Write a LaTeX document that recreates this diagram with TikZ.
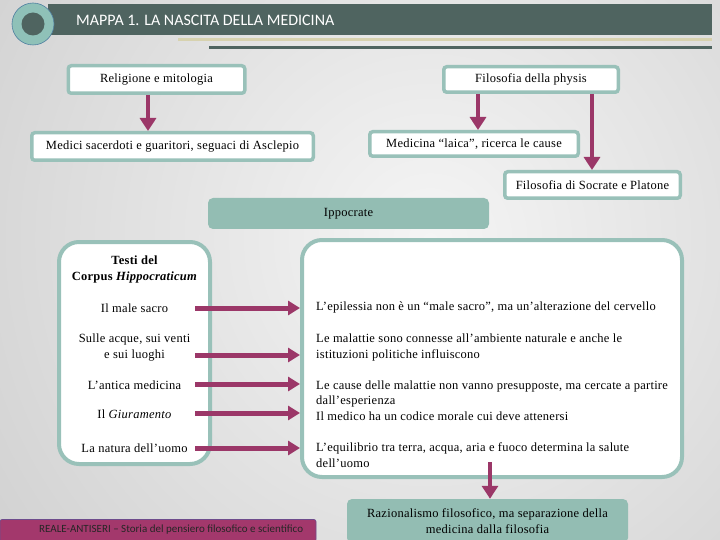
\documentclass[tikz,border=0pt]{standalone}
\usepackage{fontspec}
\setmainfont[LetterSpace=2]{Liberation Serif}
\newfontfamily\carlito{Carlito}
\usetikzlibrary{arrows.meta}
\definecolor{bgA}{HTML}{F5F5F5}
\definecolor{bgB}{HTML}{BEBEBE}
\definecolor{hdr}{HTML}{4F6460}
\definecolor{tealB}{HTML}{99C1B9}
\definecolor{tealF}{HTML}{93BDB3}
\definecolor{mag}{HTML}{9B3768}
\definecolor{magF}{HTML}{A3386C}
\definecolor{magB}{HTML}{6E4C8C}
\definecolor{beige}{HTML}{D7D2AF}
\definecolor{ring}{HTML}{8FC1B8}
\definecolor{ringB}{HTML}{4F7FA0}
\begin{document}
\begin{tikzpicture}[x=1pt,y=-1pt,
  box/.style={draw=tealB, line width=3.5pt, fill=white, rounded corners=3pt, inner sep=0pt, font=\fontsize{12.5}{15}\selectfont},
  tbox/.style={fill=tealF, rounded corners=5pt, inner sep=0pt, align=center, font=\fontsize{12.5}{16}\selectfont},
  bigbox/.style={draw=tealB, line width=4pt, fill=white, rounded corners=20pt, inner sep=0pt},
  varr/.style={draw=mag, line width=4.5pt, -{Triangle[width=16pt,length=13pt]}},
  harr/.style={draw=mag, line width=5pt, -{Triangle[width=14pt,length=12pt]}},
  txt/.style={font=\fontsize{12.5}{15}\selectfont, inner sep=0pt},
  btxt/.style={font=\fontsize{12.5}{15}\selectfont\bfseries, inner sep=0pt},
]
\useasboundingbox (0,0) rectangle (720,540);
% background
\begin{scope}
\clip (0,0) rectangle (720,540);
\shade[inner color=bgA, outer color=bgB] (430,240) circle (820);
\end{scope}
% header
\fill[hdr] (48,4) rectangle (712,35);
\draw[beige, line width=3pt] (178,39.5) -- (712,39.5);
\draw[hdr, line width=3pt] (209,47.5) -- (712,47.5);
\node[circle, fill=ring, draw=ringB, line width=0.6pt, minimum size=42pt, inner sep=0pt] (logo) at (33,24) {};
\node[circle, fill=hdr, minimum size=23pt, inner sep=0pt] (logoin) at (33,24) {};
\node[anchor=west, text=white, font=\carlito\fontsize{16}{18}\selectfont, inner sep=0pt] (title) at (76,20) {MAPPA 1. LA NASCITA DELLA MEDICINA};
% top boxes
\node[box, minimum width=176.5pt, minimum height=27.5pt] (rel) at (156.5,79.5) {Religione e mitologia};
\node[box, minimum width=281.5pt, minimum height=27.5pt] (med) at (172.5,146.5) {Medici sacerdoti e guaritori, seguaci di Asclepio};
\node[box, minimum width=174.5pt, minimum height=25.5pt] (phy) at (531,79.5) {Filosofia della physis};
\node[box, minimum width=208.5pt, minimum height=24.5pt] (lai) at (474,144) {Medicina “laica”, ricerca le cause};
\node[box, minimum width=175.5pt, minimum height=26.5pt] (soc) at (592.5,185) {Filosofia di Socrate e Platone};
\node[tbox, minimum width=281pt, minimum height=31pt] (ipp) at (348.5,213.5) {Ippocrate};
% big boxes
\node[bigbox, minimum width=151pt, minimum height=222pt] (lb) at (134.5,353) {};
\node[bigbox, minimum width=380pt, minimum height=237pt] (rb) at (492,358.5) {};
% bottom boxes
\node[tbox, minimum width=281pt, minimum height=44pt] (bot) at (487.5,521) {Razionalismo filosofico, ma separazione della\\medicina dalla filosofia};
\node[fill=magF, draw=magB, line width=0.6pt, rounded corners=2pt, minimum width=316pt, minimum height=22pt, inner sep=0pt] (foot) at (158,530.5) {};
\node[anchor=west, inner sep=0pt, text=black!85, font=\carlito\fontsize{11}{12}\selectfont] (foottxt) at (39,530) {REALE-ANTISERI – Storia del pensiero filosofico e scientifico};
% left texts
\node[btxt, anchor=base] (l0a) at (134.5,264) {Testi del};
\node[btxt, anchor=base] (l0b) at (134.5,280) {Corpus \textit{Hippocraticum}};
\node[txt, anchor=base] (l1) at (134.5,312) {Il male sacro};
\node[txt, anchor=base] (l2a) at (134.5,342) {Sulle acque, sui venti};
\node[txt, anchor=base] (l2b) at (134.5,358) {e sui luoghi};
\node[txt, anchor=base] (l3) at (134.5,389) {L’antica medicina};
\node[txt, anchor=base] (l4) at (134.5,418) {Il \textit{Giuramento}};
\node[txt, anchor=base] (l5) at (134.5,452) {La natura dell’uomo};
% right texts
\node[txt, anchor=base west] (r1) at (316,310) {L’epilessia non è un “male sacro”, ma un’alterazione del cervello};
\node[txt, anchor=base west] (r2a) at (316,342) {Le malattie sono connesse all’ambiente naturale e anche le};
\node[txt, anchor=base west] (r2b) at (316,358) {istituzioni politiche influiscono};
\node[txt, anchor=base west] (r3a) at (316,389) {Le cause delle malattie non vanno presupposte, ma cercate a partire};
\node[txt, anchor=base west] (r3b) at (316,404) {dall’esperienza};
\node[txt, anchor=base west] (r4) at (316,420) {Il medico ha un codice morale cui deve attenersi};
\node[txt, anchor=base west] (r5a) at (316,451) {L’equilibrio tra terra, acqua, aria e fuoco determina la salute};
\node[txt, anchor=base west] (r5b) at (316,467) {dell’uomo};
% vertical arrows
\coordinate (xa) at (148,0);
\coordinate (xb) at (478,0);
\coordinate (xc) at (592,0);
\coordinate (bs) at (490,462);
\draw[varr] (rel.south -| xa) -- (med.north -| xa);
\draw[varr] (phy.south -| xb) -- (lai.north -| xb);
\draw[varr] (phy.south -| xc) -- (soc.north -| xc);
\draw[varr] (bs) -- (bot.north -| bs);
% horizontal arrows
\coordinate (h1) at (195,308);
\coordinate (h2) at (195,355);
\coordinate (h3) at (195,384);
\coordinate (h4) at (195,413);
\coordinate (h5) at (195,448);
\draw[harr] (h1) -- (rb.west |- h1);
\draw[harr] (h2) -- (rb.west |- h2);
\draw[harr] (h3) -- (rb.west |- h3);
\draw[harr] (h4) -- (rb.west |- h4);
\draw[harr] (h5) -- (rb.west |- h5);
\end{tikzpicture}
\end{document}
